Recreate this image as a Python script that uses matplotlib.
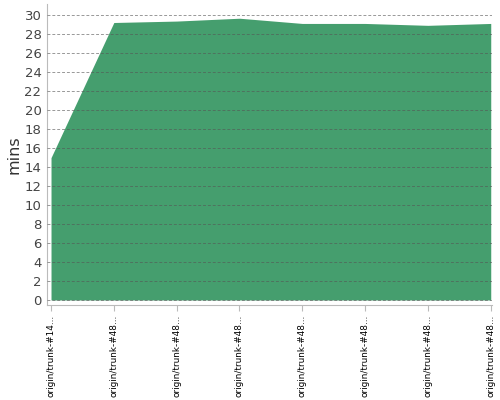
import matplotlib
matplotlib.use("Agg")
import matplotlib.pyplot as plt

labels = ["origin/trunk-#14...", "origin/trunk-#48...", "origin/trunk-#48...",
          "origin/trunk-#48...", "origin/trunk-#48...", "origin/trunk-#48...",
          "origin/trunk-#48...", "origin/trunk-#48..."]
values = [15.0, 29.25, 29.4, 29.7, 29.15, 29.15, 28.95, 29.15]
yticks = list(range(0, 31, 2))

fig = plt.figure(figsize=(5, 4), dpi=100)
ax = fig.add_axes([0.094, 0.2375, 0.89, 0.7525])
x = list(range(len(values)))
ax.fill_between(x, 0, values, color="#459E6E", linewidth=0, zorder=1)
ax.set_xlim(-0.064, 7.02)
ax.set_ylim(-0.53, 31.2)
ax.set_yticks(yticks)
ax.set_yticklabels([str(t) for t in yticks], color="#444444", fontsize=9.5)
ax.set_xticks(x)
ax.set_xticklabels(labels, rotation=90, fontsize=6.4, color="black")
ax.tick_params(axis="y", length=0, pad=4)
ax.tick_params(axis="x", length=4, color="#bbbbbb", pad=3)
ax.grid(axis="y", linestyle=(0, (3, 2)), color="#555555", alpha=0.6, linewidth=0.7, zorder=2)
ax.set_axisbelow(False)
for s in ["top", "right"]:
    ax.spines[s].set_visible(False)
for s in ["left", "bottom"]:
    ax.spines[s].set_color("#bbbbbb")
ax.set_ylabel("mins", fontsize=11.5, color="#333333", labelpad=2)
fig.savefig("out.png", dpi=100)
